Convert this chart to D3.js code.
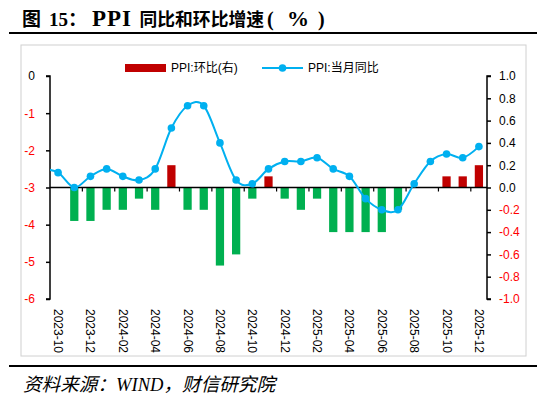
<!DOCTYPE html>
<html>
<head>
<meta charset="utf-8">
<script src="https://cdn.jsdelivr.net/npm/d3@7/dist/d3.min.js"></script>
<style>
  html, body { margin: 0; padding: 0; background: #fff; }
  svg { display: block; }
  .tick-lab { font-family: "Liberation Sans", "Noto Sans CJK SC", sans-serif; font-size: 12px; }
</style>
</head>
<body>
<svg id="chart" width="550" height="406"></svg>
<script>
// ---------------- datos ----------------
const meses = [
  "2023-10", "2023-11", "2023-12", "2024-01", "2024-02", "2024-03", "2024-04",
  "2024-05", "2024-06", "2024-07", "2024-08", "2024-09", "2024-10", "2024-11",
  "2024-12", "2025-01", "2025-02", "2025-03", "2025-04", "2025-05", "2025-06",
  "2025-07", "2025-08", "2025-09", "2025-10", "2025-11", "2025-12"
];
// PPI 当月同比 (eje izquierdo)
const ppiYoy = [
  -2.6, -3.0, -2.7, -2.5, -2.7, -2.8, -2.5, -1.4, -0.8, -0.8, -1.8, -2.8, -2.9, -2.5,
  -2.3, -2.3, -2.2, -2.5, -2.7, -3.3, -3.6, -3.6, -2.9, -2.3, -2.1, -2.2, -1.9
];
// valor del mes anterior (2023-09), solo asoma recortado en el borde
const ppiYoyPrevio = -2.5;
// PPI 环比 (eje derecho)
const ppiMom = [
  0.0, -0.3, -0.3, -0.2, -0.2, -0.1, -0.2, 0.2, -0.2, -0.2, -0.7, -0.6, -0.1, 0.1,
  -0.1, -0.2, -0.1, -0.4, -0.4, -0.4, -0.4, -0.2, 0.0, 0.0, 0.1, 0.1, 0.2
];
const ticksIzq = [0, -1, -2, -3, -4, -5, -6];
const ticksDer = [1.0, 0.8, 0.6, 0.4, 0.2, 0.0, -0.2, -0.4, -0.6, -0.8, -1.0];

// ---------------- estilos ----------------
const ROJO = "#C00000";
const VERDE = "#00B050";
const AZUL = "#00B0F0";
const ROJO_TXT = "#FF0000";

const svg = d3.select("#chart");

const area = { left: 50, right: 487, top: 76, bottom: 299 };

const x = d3.scaleBand().domain(meses).range([area.left, area.right]).padding(0);
const yL = d3.scaleLinear().domain([-6, 0]).range([area.bottom, area.top]);
const yR = d3.scaleLinear().domain([-1, 1]).range([area.bottom, area.top]);
const paso = x.step();
const cx = m => x(m) + x.bandwidth() / 2;

// ---------------- título y marco ----------------
// el título se arma por tramos para respetar el espaciado del original
const titulo = svg.append("text")
  .attr("y", 26)
  .style("font-family", "'Liberation Serif', 'Noto Sans CJK SC', serif")
  .style("font-weight", "bold")
  .style("font-size", "19px");
[
  { t: "图", x: 22 },
  { t: "15：", x: 49 },
  { t: "PPI", x: 92, size: 23, ls: 1 },
  { t: "同比和环比增速", x: 139.5, size: 17.8 },
  { t: "(", x: 267, size: 20 },
  { t: "%", x: 287, size: 22 },
  { t: ")", x: 318, size: 20 }
].forEach(p => {
  const ts = titulo.append("tspan").attr("x", p.x).text(p.t);
  if (p.size) ts.style("font-size", p.size + "px");
  if (p.ls) ts.style("letter-spacing", p.ls + "px");
});

svg.append("line")
  .attr("x1", 9).attr("x2", 537).attr("y1", 33).attr("y2", 33)
  .attr("stroke", "#000").attr("stroke-width", 2);

svg.append("rect")
  .attr("x", 21).attr("y", 45).attr("width", 505).attr("height", 311)
  .attr("fill", "none").attr("stroke", "#d0d0d0").attr("stroke-width", 1);

svg.append("line")
  .attr("x1", 9).attr("x2", 537).attr("y1", 366).attr("y2", 366)
  .attr("stroke", "#000").attr("stroke-width", 2);

svg.append("text")
  .attr("x", 23).attr("y", 391)
  .style("font-family", "'Liberation Serif', 'Noto Sans CJK SC', serif")
  .style("font-style", "italic")
  .style("font-size", "18.6px")
  .text("资料来源：WIND，财信研究院");

// ---------------- barras (eje derecho) ----------------
const anchoBarra = paso * 0.51;
svg.append("g")
  .selectAll("rect")
  .data(meses.map((m, i) => ({ m, v: ppiMom[i] })).filter(d => d.v !== 0))
  .join("rect")
  .attr("x", d => cx(d.m) - anchoBarra / 2)
  .attr("y", d => yR(Math.max(0, d.v)))
  .attr("width", anchoBarra)
  .attr("height", d => Math.abs(yR(d.v) - yR(0)))
  .attr("fill", d => d.v > 0 ? ROJO : VERDE);

// ---------------- eje x (línea de cero) ----------------
const gx = svg.append("g");
gx.append("line")
  .attr("x1", area.left).attr("x2", area.right)
  .attr("y1", yR(0)).attr("y2", yR(0))
  .attr("stroke", "#000").attr("stroke-width", 1.5);
gx.selectAll("line.tk")
  .data(meses.filter((m, i) => i % 2 === 0 && i > 0))
  .join("line")
  .attr("class", "tk")
  .attr("x1", d => x(d)).attr("x2", d => x(d))
  .attr("y1", yR(0)).attr("y2", yR(0) + 4)
  .attr("stroke", "#000").attr("stroke-width", 1.2);

// etiquetas de meses, giradas
svg.append("g")
  .selectAll("text")
  .data(meses.filter((m, i) => i % 2 === 0))
  .join("text")
  .attr("class", "tick-lab")
  .attr("transform", d => `translate(${cx(d) - 4},309) rotate(90)`)
  .style("font-size", "12px")
  .text(d => d);

// ---------------- ejes verticales ----------------
const axIzq = svg.append("g")
  .attr("transform", `translate(${area.left},0)`)
  .call(d3.axisLeft(yL).tickValues(ticksIzq).tickSize(4).tickFormat(d3.format("d")));
axIzq.select(".domain").attr("stroke-width", 1.5).attr("d", `M-4,${area.top}H0V${area.bottom}H-4`);
axIzq.selectAll(".tick line").attr("stroke-width", 1.5);
axIzq.selectAll(".tick text")
  .attr("class", "tick-lab")
  .attr("x", -15)
  .attr("fill", d => d < 0 ? ROJO_TXT : "#000")
  .text(d => d < 0 ? "-" + Math.abs(d) : d);

const axDer = svg.append("g")
  .attr("transform", `translate(${area.right},0)`)
  .call(d3.axisRight(yR).tickValues(ticksDer).tickSize(4).tickFormat(d3.format(".1f")));
axDer.select(".domain").attr("stroke-width", 1.5).attr("d", `M4,${area.top}H0V${area.bottom}H4`);
axDer.selectAll(".tick line").attr("stroke-width", 1.5);
axDer.selectAll(".tick text")
  .attr("class", "tick-lab")
  .attr("x", 12)
  .attr("fill", d => d < -1e-9 ? ROJO_TXT : "#000")
  .text(d => d < -1e-9 ? "-" + d3.format(".1f")(Math.abs(d)) : d3.format(".1f")(d));

// ---------------- línea (eje izquierdo) ----------------
svg.append("clipPath").attr("id", "recorte")
  .append("rect")
  .attr("x", area.left).attr("y", 0)
  .attr("width", area.right - area.left).attr("height", 406);

const puntosLinea = [{ x: cx(meses[0]) - paso, v: ppiYoyPrevio }]
  .concat(meses.map((m, i) => ({ x: cx(m), v: ppiYoy[i] })));

const linea = d3.line()
  .x(d => d.x)
  .y(d => yL(d.v))
  .curve(d3.curveCardinal.tension(0));

svg.append("path")
  .datum(puntosLinea)
  .attr("clip-path", "url(#recorte)")
  .attr("d", linea)
  .attr("fill", "none")
  .attr("stroke", AZUL)
  .attr("stroke-width", 2);

svg.append("g")
  .selectAll("circle")
  .data(meses.map((m, i) => ({ m, v: ppiYoy[i] })))
  .join("circle")
  .attr("cx", d => cx(d.m))
  .attr("cy", d => yL(d.v))
  .attr("r", 3.8)
  .attr("fill", AZUL);

// ---------------- leyenda ----------------
const ley = svg.append("g").attr("transform", "translate(0,68)");
ley.append("rect")
  .attr("x", 125).attr("y", -4).attr("width", 41).attr("height", 8)
  .attr("fill", ROJO);
ley.append("text")
  .attr("class", "tick-lab")
  .attr("x", 171).attr("y", 0).attr("dy", "0.35em")
  .text("PPI:环比(右)");
ley.append("line")
  .attr("x1", 262).attr("x2", 303).attr("y1", 0).attr("y2", 0)
  .attr("stroke", AZUL).attr("stroke-width", 2);
ley.append("circle")
  .attr("cx", 282.5).attr("cy", 0).attr("r", 3.8).attr("fill", AZUL);
ley.append("text")
  .attr("class", "tick-lab")
  .attr("x", 308).attr("y", 0).attr("dy", "0.35em")
  .text("PPI:当月同比");
</script>
</body>
</html>
